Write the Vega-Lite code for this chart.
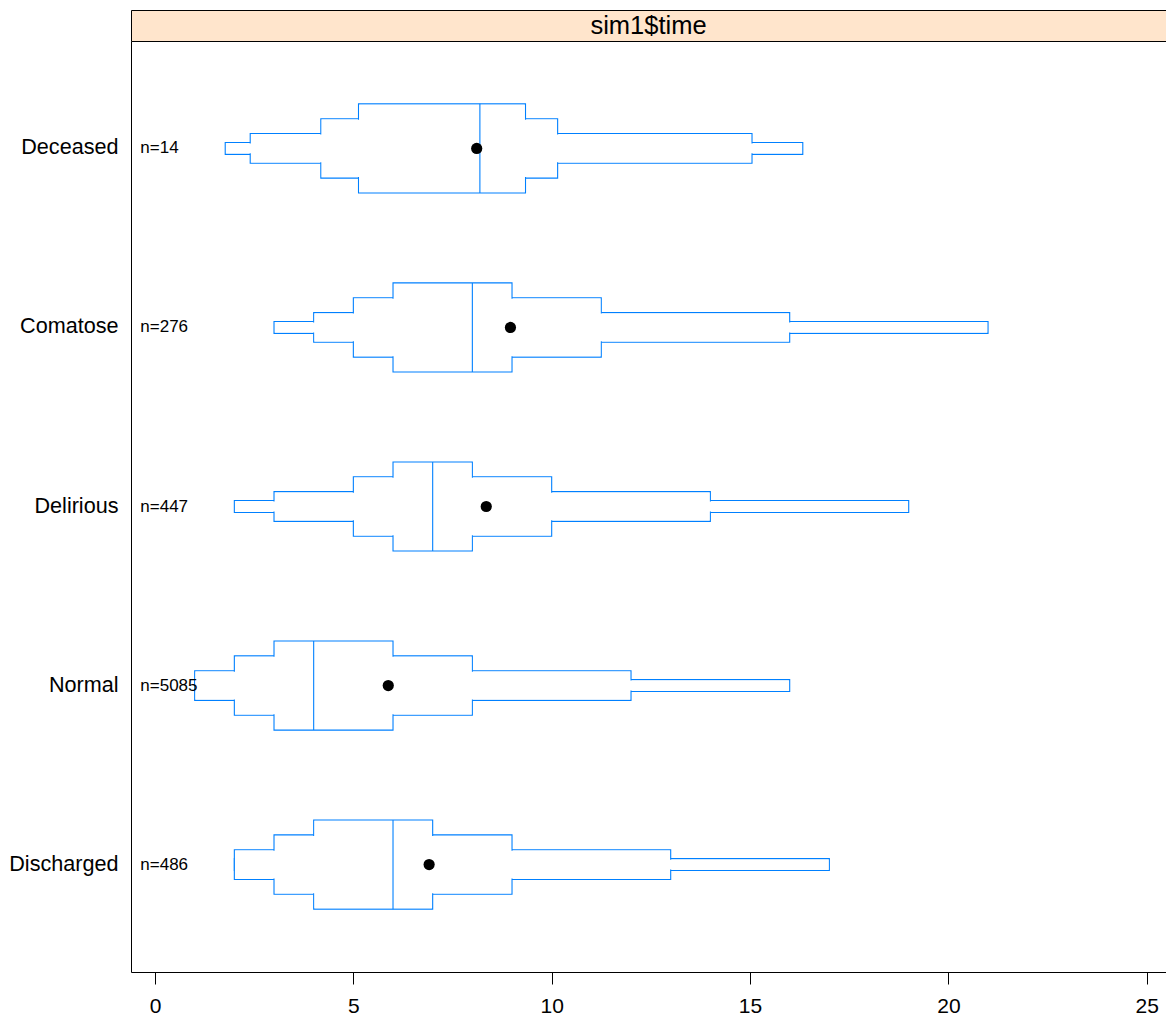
{
  "$schema": "https://vega.github.io/schema/vega-lite/v6.json",
  "padding": {"left": 8, "top": 10, "right": 0, "bottom": 4},
  "spacing": 0,
  "config": {
    "font": "Liberation Sans",
    "view": {"stroke": null},
    "axis": {"grid": false, "domainColor": "black", "tickColor": "black", "labelColor": "black", "domainWidth": 1, "tickWidth": 1}
  },
  "datasets": {
    "q": [
      {"cat": "Deceased", "nlab": "n=14", "q05": 1.77, "q125": 2.4, "q25": 4.18, "q375": 5.13, "q50": 8.19, "q625": 9.34, "q75": 10.15, "q875": 15.05, "q95": 16.33, "mean": 8.11},
      {"cat": "Comatose", "nlab": "n=276", "q05": 3, "q125": 4, "q25": 5, "q375": 6, "q50": 8, "q625": 9, "q75": 11.25, "q875": 16, "q95": 21, "mean": 8.96},
      {"cat": "Delirious", "nlab": "n=447", "q05": 2, "q125": 3, "q25": 5, "q375": 6, "q50": 7, "q625": 8, "q75": 10, "q875": 14, "q95": 19, "mean": 8.35},
      {"cat": "Normal", "nlab": "n=5085", "q05": 1, "q125": 1, "q25": 2, "q375": 3, "q50": 4, "q625": 6, "q75": 8, "q875": 12, "q95": 16, "mean": 5.88},
      {"cat": "Discharged", "nlab": "n=486", "q05": 2, "q125": 2, "q25": 3, "q375": 4, "q50": 6, "q625": 7, "q75": 9, "q875": 13, "q95": 17, "mean": 6.91}
    ]
  },
  "vconcat": [
    {
      "width": 1035,
      "height": 31,
      "view": {"fill": "#FFE5CC", "stroke": null},
      "data": {"values": [{"strip": "sim1$time"}]},
      "layer": [
        {
          "mark": {"type": "text", "fontSize": 25.5, "color": "black", "baseline": "middle", "align": "center"},
          "encoding": {
            "x": {"datum": 12.44, "type": "quantitative", "scale": {"domain": [-0.605, 25.486], "nice": false, "zero": false}, "axis": {"orient": "top", "ticks": false, "labels": false, "title": null, "domain": true}},
            "y": {"datum": 0.5, "type": "quantitative", "scale": {"domain": [0, 1], "nice": false}, "axis": {"ticks": false, "labels": false, "title": null, "domain": true}},
            "text": {"field": "strip"}
          }
        },
        {
          "mark": {"type": "text", "text": ""},
          "encoding": {
            "x": {"datum": 12.44, "type": "quantitative", "axis": {"orient": "bottom", "ticks": false, "labels": false, "title": null, "domain": true}},
            "y": {"datum": 0.5, "type": "quantitative"}
          }
        }
      ],
      "resolve": {"axis": {"x": "independent"}}
    },
    {
      "width": 1035,
      "height": 931,
      "data": {"name": "q"},
      "encoding": {
        "y": {
          "field": "cat", "type": "nominal",
          "sort": ["Deceased", "Comatose", "Delirious", "Normal", "Discharged"],
          "scale": {"paddingInner": 0, "paddingOuter": 0.1},
          "axis": {"title": null, "ticks": false, "labelFontSize": 21.6, "labelPadding": 13, "domain": true}
        }
      },
      "layer": [
        {
          "mark": {"type": "bar", "height": 11.9, "fill": "white", "stroke": "#0080ff", "strokeWidth": 1.1},
          "encoding": {
            "x": {"field": "q05", "type": "quantitative", "scale": {"domain": [-0.605, 25.486], "nice": false, "zero": false},
                  "axis": {"values": [0, 5, 10, 15, 20, 25], "tickSize": 12, "labelFontSize": 21, "labelPadding": 11.5, "title": null, "domain": true, "labelFlush": false}},
            "x2": {"field": "q95"}
          }
        },
        {
          "mark": {"type": "bar", "height": 29.7, "fill": "white", "stroke": "#0080ff", "strokeWidth": 1.1},
          "encoding": {"x": {"field": "q125", "type": "quantitative"}, "x2": {"field": "q875"}}
        },
        {
          "mark": {"type": "bar", "height": 59.4, "fill": "white", "stroke": "#0080ff", "strokeWidth": 1.1},
          "encoding": {"x": {"field": "q25", "type": "quantitative"}, "x2": {"field": "q75"}}
        },
        {
          "mark": {"type": "bar", "height": 89.1, "fill": "white", "stroke": "#0080ff", "strokeWidth": 1.1},
          "encoding": {"x": {"field": "q375", "type": "quantitative"}, "x2": {"field": "q625"}}
        },
        {
          "mark": {"type": "bar", "height": 9.9, "xOffset": 1, "x2Offset": -1, "fill": "white", "strokeWidth": 0},
          "encoding": {"x": {"field": "q05", "type": "quantitative"}, "x2": {"field": "q95"}}
        },
        {
          "mark": {"type": "bar", "height": 27.7, "xOffset": 1, "x2Offset": -1, "fill": "white", "strokeWidth": 0},
          "encoding": {"x": {"field": "q125", "type": "quantitative"}, "x2": {"field": "q875"}}
        },
        {
          "mark": {"type": "bar", "height": 57.4, "xOffset": 1, "x2Offset": -1, "fill": "white", "strokeWidth": 0},
          "encoding": {"x": {"field": "q25", "type": "quantitative"}, "x2": {"field": "q75"}}
        },
        {
          "mark": {"type": "bar", "height": 87.1, "xOffset": 1, "x2Offset": -1, "fill": "white", "strokeWidth": 0},
          "encoding": {"x": {"field": "q375", "type": "quantitative"}, "x2": {"field": "q625"}}
        },
        {
          "mark": {"type": "tick", "size": 89.1, "thickness": 1.1, "color": "#0080ff", "opacity": 1},
          "encoding": {"x": {"field": "q50", "type": "quantitative"}}
        },
        {
          "mark": {"type": "point", "filled": true, "size": 125, "color": "black", "opacity": 1},
          "encoding": {"x": {"field": "mean", "type": "quantitative"}}
        },
        {
          "mark": {"type": "text", "align": "left", "baseline": "middle", "fontSize": 17, "color": "black"},
          "encoding": {"x": {"datum": -0.37, "type": "quantitative"}, "text": {"field": "nlab"}}
        }
      ]
    }
  ]
}
